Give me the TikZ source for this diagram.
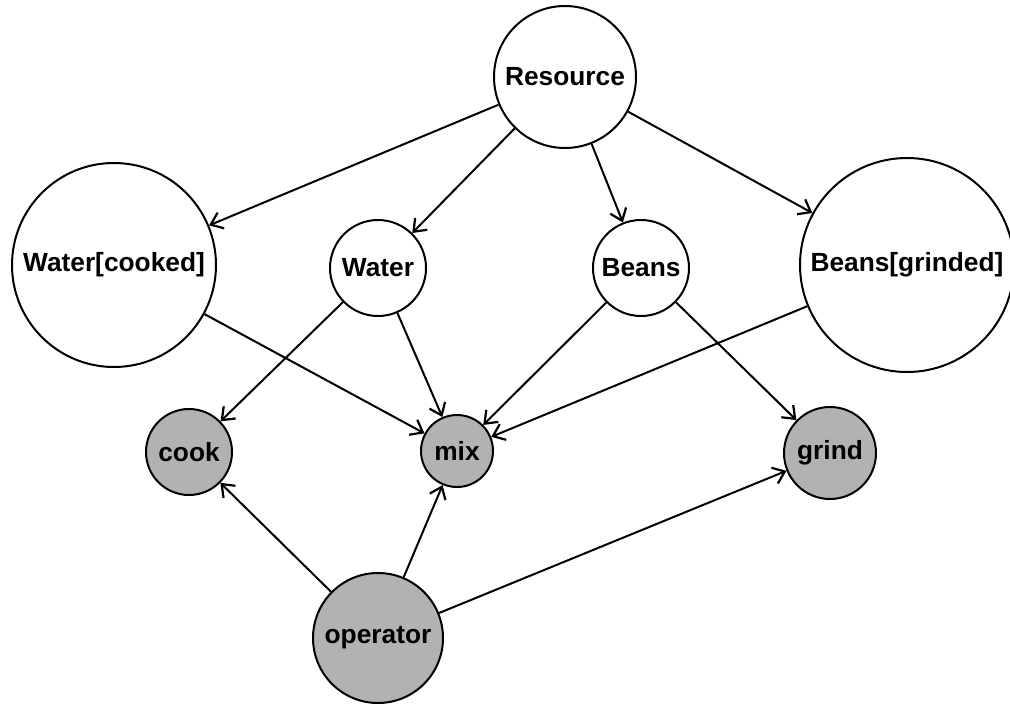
\documentclass[tikz,border=0pt]{standalone}
\usepackage{fontspec}
\setmainfont{Liberation Sans}
\usetikzlibrary{arrows.meta}
\begin{document}
\begin{tikzpicture}[x=1pt,y=-1pt,
  st/.style={circle,draw=black,line width=2pt,inner sep=0pt,font=\fontsize{26.3}{30}\selectfont\bfseries},
  res/.style={st,fill=white},
  act/.style={st,fill=black!30},
  edge/.style={line width=2pt,-{Straight Barb[length=11pt,width=17pt,line width=2.2pt]}}]
\useasboundingbox (0,0) rectangle (1010,704);
\node[res,minimum size=142pt] (R) at (565,77) {Resource};
\node[res,minimum size=204pt] (WC) at (114,265) {Water[cooked]};
\node[res,minimum size=96pt] (W) at (378,268) {Water};
\node[res,minimum size=96pt] (B) at (641,268) {Beans};
\node[res,minimum size=214pt] (BG) at (907,265) {Beans[grinded]};
\node[act,minimum size=86pt] (cook) at (189,452) {cook};
\node[act,minimum size=72pt] (mix) at (457,451) {mix};
\node[act,minimum size=92pt] (grind) at (830,453) {grind};
\node[act,minimum size=130pt] (op) at (378,638) {operator};
\draw[edge] (R) -- (WC);
\draw[edge] (R) -- (W);
\draw[edge] (R) -- (B);
\draw[edge] (R) -- (BG);
\draw[edge] (WC) -- (mix);
\draw[edge] (W) -- (cook);
\draw[edge] (W) -- (mix);
\draw[edge] (B) -- (mix);
\draw[edge] (B) -- (grind);
\draw[edge] (BG) -- (mix);
\draw[edge] (op) -- (cook);
\draw[edge] (op) -- (mix);
\draw[edge] (op) -- (grind);
\end{tikzpicture}
\end{document}
